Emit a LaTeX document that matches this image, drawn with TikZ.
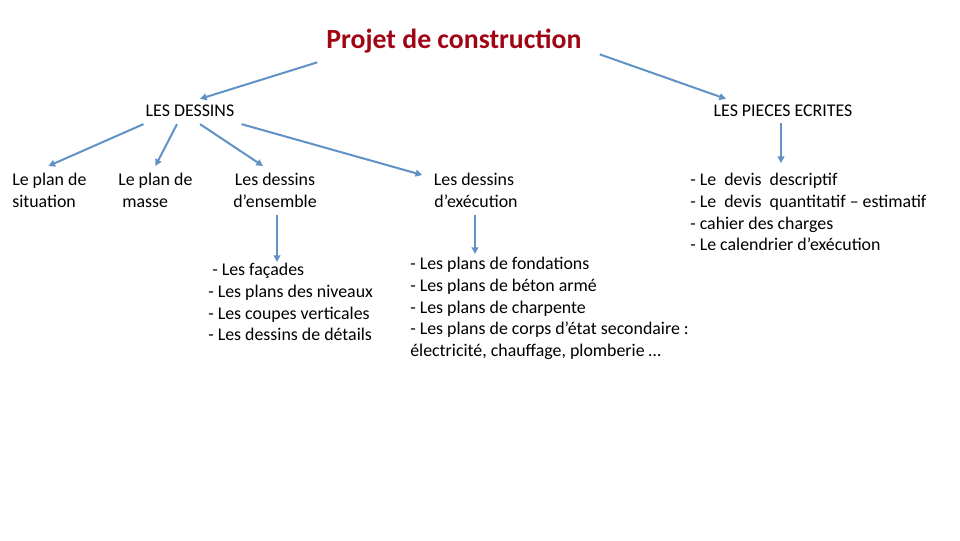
\documentclass[tikz,border=0pt]{standalone}
\usepackage{fontspec}
\setmainfont{Carlito}
\usetikzlibrary{arrows.meta,calc}
\definecolor{titrerouge}{RGB}{160,5,22}
\definecolor{flechebleu}{RGB}{96,146,198}
\tikzset{
  fleche/.style={draw=flechebleu,line width=1.5pt,-{Triangle[length=5pt,width=5pt]}},
  texte/.style={inner sep=0pt,font=\fontsize{13.4}{16.3}\selectfont},
}
\begin{document}
\begin{tikzpicture}[x=0.75pt,y=0.75pt,yscale=-1,xscale=1]
\useasboundingbox (0,0) rectangle (960,540);

% Titre
\node (titre) at (454,41) [inner sep=0.75pt,text=titrerouge,font=\fontsize{20.8}{25}\selectfont\bfseries] {Projet de construction};

% Niveau 1
\node (dessins) at (190,111) [texte] {LES DESSINS};
\node (pieces) at (783,111) [texte] {LES PIECES ECRITES};

% Niveau 2
\node (situation) at (12,173) [texte,anchor=north west,align=left] {Le plan de\\situation};
\node (masse) at (118,173) [texte,anchor=north west,align=left] {Le plan de\\\ masse};
\node (ensemble) at (275,173) [texte,anchor=north,align=center] {Les dessins\\d’ensemble};
\node (execution) at (474,173) [texte,anchor=north,align=center] {Les dessins\\\ d’exécution};
\node (lstpieces) at (690,173) [texte,anchor=north west,align=left] {- Le\ \ devis\ \ descriptif\\- Le\ \ devis\ \ quantitatif – estimatif\\- cahier des charges\\- Le calendrier d’exécution};

% Niveau 3
\node (lstens) at (208,263) [texte,anchor=north west,align=left] {\ - Les façades\\- Les plans des niveaux\\- Les coupes verticales\\- Les dessins de détails};
\node (lstexe) at (410,257) [texte,anchor=north west,align=left] {- Les plans de fondations\\- Les plans de béton armé\\- Les plans de charpente\\- Les plans de corps d’état secondaire :\\électricité, chauffage, plomberie …};

% Fleches
\draw [fleche] ($(titre.south west)+(-8,8)$) -- ($(dessins.north)+(10,-6)$);
\draw [fleche] ($(titre.south east)+(17,0)$) -- ($(pieces.north)+(-57,-6)$);
\draw [fleche] ($(dessins.south west)+(-2,7)$) -- ($(situation.north)+(-1,-7)$);
\draw [fleche] ($(dessins.south)+(-13,7)$) -- ($(masse.north)+(0,-7)$);
\draw [fleche] ($(dessins.south)+(10,7)$) -- ($(ensemble.north)+(-12,-7)$);
\draw [fleche] ($(dessins.south east)+(7,7)$) -- ($(execution.north west)+(-8,2)$);
\draw [fleche] ($(pieces.south)+(-2,6)$) -- ($(pieces.south)+(-2,46)$);
\draw [fleche] ($(ensemble.south)+(2,7)$) -- ($(lstens.north west)+(69,-1)$);
\draw [fleche] ($(execution.south)+(1,7)$) -- ($(lstexe.north west)+(65,-3)$);
\end{tikzpicture}
\end{document}
